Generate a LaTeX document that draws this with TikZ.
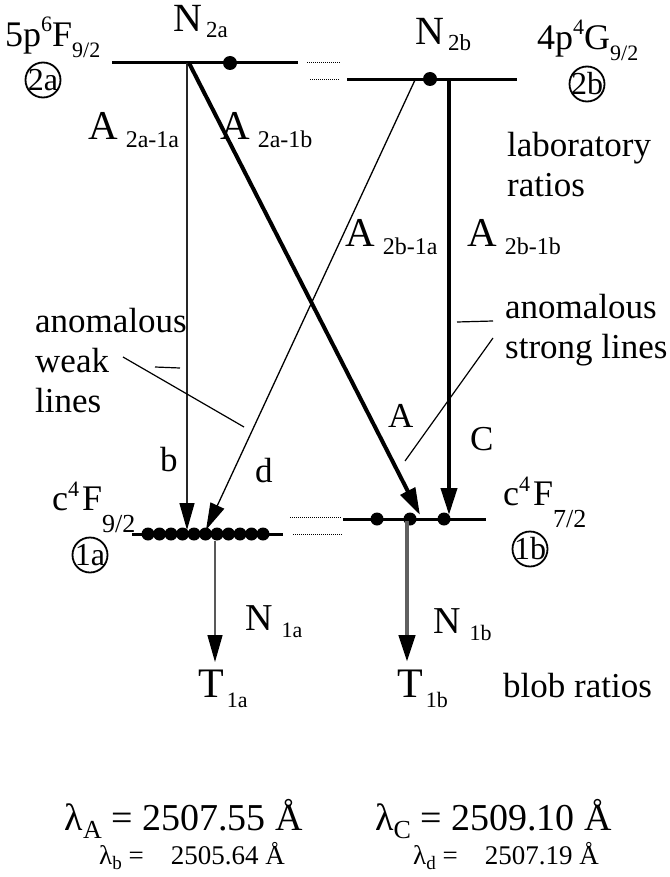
\documentclass[tikz,border=0pt]{standalone}
\usepackage{fontspec}
\setmainfont{Liberation Serif}
\usetikzlibrary{arrows.meta}
\definecolor{lowgray}{HTML}{606060}
\newcommand\dn[3]{\raisebox{-#1pt}{\fontsize{#2}{#2}\selectfont #3}}
\newcommand\up[3]{\raisebox{#1pt}{\fontsize{#2}{#2}\selectfont #3}}
\tikzset{lvl/.style={line width=3pt},dotline/.style={line width=0.9pt,dash pattern=on 1pt off 1pt},blob/.style={circle,fill=black,inner sep=0pt,minimum size=13pt},thinarr/.style={line width=1.3pt,-{Triangle[length=27pt,width=15pt,color=black]}},heavyarr/.style={line width=4pt,-{Triangle[length=27pt,width=16pt,color=black]}},lead/.style={line width=1.2pt},lab/.style={anchor=base west,inner sep=0pt,align=left,font=\fontsize{35}{40}\selectfont},sym/.style={anchor=base west,inner sep=0pt,font=\fontsize{40}{40}\selectfont},ring/.style={circle,draw,line width=1.8pt,minimum size=35pt,inner sep=-4pt,font=\fontsize{32}{32}\selectfont}}
\begin{document}
\begin{tikzpicture}[x=1pt,y=-1pt]
\useasboundingbox (0,0) rectangle (669,877);
\draw[lvl](112,63)--(298,63);\draw[lvl](347,80)--(517,80);\draw[lvl](132,534)--(283,534);\draw[lvl](343,519)--(486,519);
\draw[dotline](307,62)--(340,62);\draw[dotline](310,79)--(340,79);\draw[dotline](290,517)--(342,517);\draw[dotline](293,534)--(342,534);
\node[blob,minimum size=14pt] (p2a) at (230,63) {};
\node[blob,minimum size=14pt] (p2b) at (430,79) {};
\foreach \i in {0,...,10} \node[blob] (p1a\i) at (148+11.5*\i,534) {};
\foreach \x [count=\i] in {377,410,444} \node[blob] (p1b\i) at (\x,519) {};
\coordinate (n2a) at (187,63);\coordinate (n2ax) at (189,63);\coordinate (n2b) at (415,80);\coordinate (n2bc) at (449,80);
\coordinate (b1a) at (187,530);\coordinate (d1a) at (206,530);\coordinate (a1b) at (420,515);\coordinate (c1b) at (449,515);
\coordinate (o1a) at (215,541);\coordinate (o1b) at (407,521);\coordinate (t1a) at (215,662);\coordinate (t1b) at (407,662);
\draw[thinarr,draw=black!85](n2a)--(b1a);\draw[thinarr](n2b)--(d1a);\draw[heavyarr](n2ax)--(a1b);\draw[heavyarr](n2bc)--(c1b);
\draw[thinarr,draw=black!65](o1a)--(t1a);\draw[heavyarr,draw=lowgray,line width=4.5pt](o1b)--(t1b);
\coordinate (wk1) at (155,367);\coordinate (wk2) at (180,368);\coordinate (wl1) at (123,357);\coordinate (wl2) at (244,427);
\coordinate (st1) at (457,322);\coordinate (st2) at (493,321);\coordinate (sl1) at (493,338);\coordinate (sl2) at (405,461);
\draw[lead](wk1)--(wk2);\draw[lead](wl1)--(wl2);\draw[lead](st1)--(st2);\draw[lead](sl1)--(sl2);
\node[sym,font=\fontsize{36}{36}\selectfont] (t2a) at (5,47) {5p\up{15}{22}{6}F\dn{11}{22}{9/2}};
\node[sym,font=\fontsize{36}{36}\selectfont] (t2b) at (537,50) {4p\up{15}{22}{4}G\dn{11}{22}{9/2}};
\node[sym,font=\fontsize{36}{36}\selectfont] (t1al) at (52,510) {c\up{14}{22}{4}\kern3pt F\dn{22}{26}{9/2}};
\node[sym,font=\fontsize{36}{36}\selectfont] (t1bl) at (503,505) {c\up{14}{22}{4}\kern3pt F\dn{22}{26}{7/2}};
\node[ring] (r2a) at (43,80) {2a};\node[ring] (r2b) at (587,84) {2b};\node[ring] (r1a) at (90,555) {1a};\node[ring] (r1b) at (530,549) {1b};
\node[sym] (N2a) at (173,32) {N\kern4pt\dn{6}{23}{2a}};\node[sym] (N2b) at (415,45) {N\kern4pt\dn{6}{23}{2b}};
\node[sym,font=\fontsize{41}{41}\selectfont] (A2a1a) at (88,140) {A\kern8pt\dn{8}{24}{2a-1a}};
\node[sym,font=\fontsize{41}{41}\selectfont] (A2a1b) at (220,140) {A\kern8pt\dn{8}{24}{2a-1b}};
\node[sym,font=\fontsize{41}{41}\selectfont] (A2b1a) at (345,247) {A\kern8pt\dn{8}{24}{2b-1a}};
\node[sym,font=\fontsize{41}{41}\selectfont] (A2b1b) at (467,247) {A\kern8pt\dn{8}{24}{2b-1b}};
\node[lab] (lab) at (507,197) {laboratory\\ratios};
\node[lab] (weak) at (35,412) {anomalous\\weak\\lines};
\node[lab] (strong) at (505,358) {anomalous\\strong lines};
\node[lab] (lb) at (160,471) {b};\node[lab] (ld) at (255,482) {d};\node[lab] (lA) at (388,427) {A};\node[lab] (lC) at (470,450) {C};
\node[sym,font=\fontsize{38}{38}\selectfont] (N1a) at (245,630) {N\kern9pt\dn{7}{22}{1a}};
\node[sym,font=\fontsize{38}{38}\selectfont] (N1b) at (433,633) {N\kern9pt\dn{7}{22}{1b}};
\node[sym,font=\fontsize{42}{42}\selectfont] (T1a) at (198,697) {T\kern3pt\dn{10}{22}{1a}};
\node[sym,font=\fontsize{42}{42}\selectfont] (T1b) at (397,697) {T\kern3pt\dn{10}{22}{1b}};
\node[lab] (blob) at (503,697) {blob ratios};
\node[sym,anchor=base east,font=\fontsize{38}{38}\selectfont] (lamA) at (303,830) {λ\dn{8}{26}{A} = 2507.55 Å};
\node[sym,anchor=base east,font=\fontsize{38}{38}\selectfont] (lamC) at (612,830) {λ\dn{8}{26}{C} = 2509.10 Å};
\node[sym,anchor=base east,font=\fontsize{27}{27}\selectfont] (lamb) at (285,864) {λ\dn{5}{19}{b} =\quad 2505.64 Å};
\node[sym,anchor=base east,font=\fontsize{27}{27}\selectfont] (lamd) at (599,864) {λ\dn{5}{19}{d} =\quad 2507.19 Å};
\end{tikzpicture}
\end{document}
